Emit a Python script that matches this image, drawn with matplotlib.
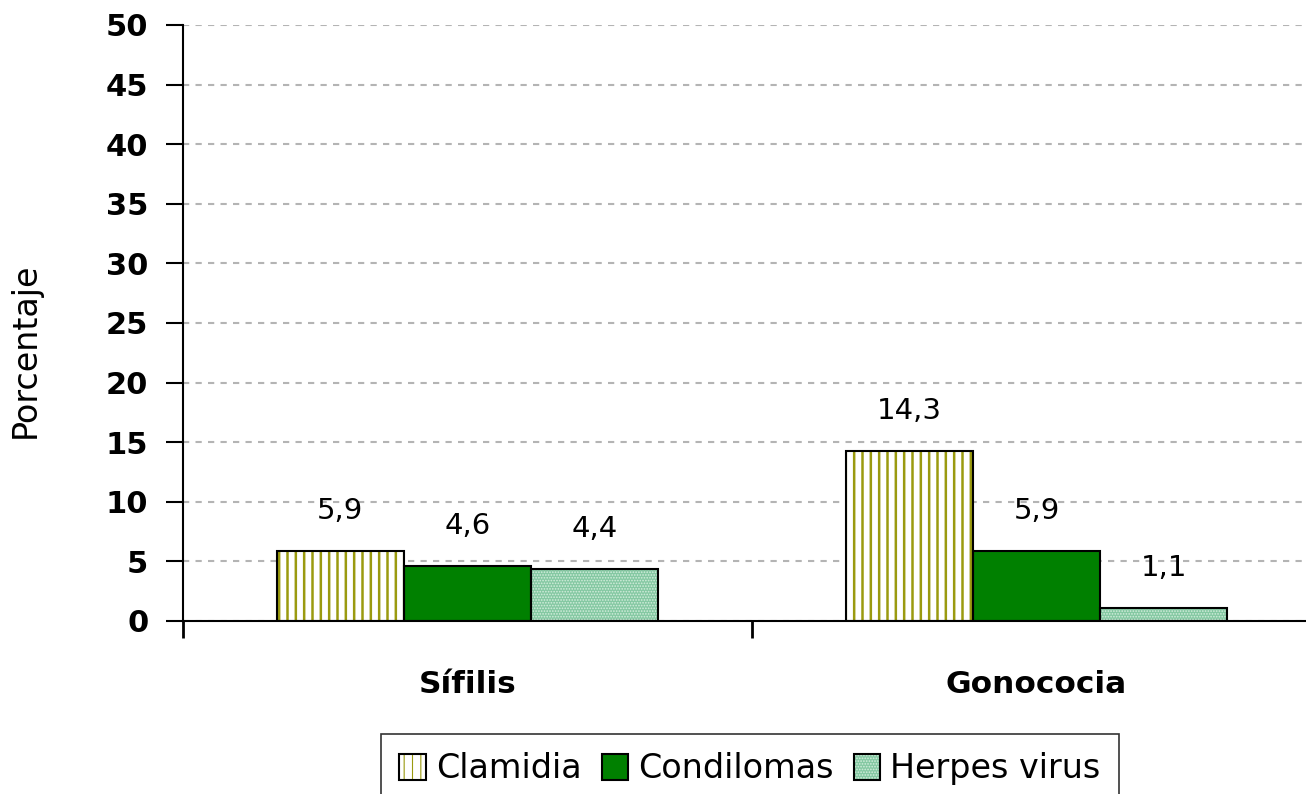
import matplotlib
matplotlib.use('agg')
import matplotlib.pyplot as plt
from matplotlib.legend_handler import HandlerTuple
import numpy as np

categories = ['Sífilis', 'Gonococia']
series = ['Clamidia', 'Condilomas', 'Herpes virus']
clamidia = [5.9, 14.3]
condilomas = [4.6, 5.9]
herpes = [4.4, 1.1]
labels = [['5,9', '14,3'], ['4,6', '5,9'], ['4,4', '1,1']]

fig = plt.figure(figsize=(13.06, 7.94), dpi=100)
# plot area runs a bit past the right edge, like the original crop
ax = fig.add_axes([183/1306, 1-621/794, (1321-183)/1306, (621-25)/794])

x = np.arange(len(categories))
w = 0.2235
styles = [
    dict(facecolor='white', hatch='||', edgecolor='#9a9a10', hlw=1.8),
    dict(facecolor='#008000', hatch=None, edgecolor='#008000', hlw=1.0),
    dict(facecolor='#84c8a2', hatch='......', edgecolor='#d4eedd', hlw=0.8),
]
vals = [clamidia, condilomas, herpes]
handles = []
for i, (v, st) in enumerate(zip(vals, styles)):
    pos = x + (i - 1) * w
    plt.rcParams['hatch.linewidth'] = st['hlw']
    b = ax.bar(pos, v, w, facecolor=st['facecolor'], hatch=st['hatch'],
               edgecolor=st['edgecolor'], linewidth=0, zorder=3)
    # black outline drawn separately so hatch colour can differ
    o = ax.bar(pos, v, w, facecolor='none', edgecolor='black', linewidth=1.5, zorder=4)
    handles.append((b[0], o[0]))
    for p, val, lab in zip(pos, v, labels[i]):
        ax.annotate(lab, (p, val), xytext=(0, 40), textcoords='offset pixels',
                    ha='center', va='center', fontsize=21, zorder=5)

ax.set_xlim(-0.5, 1.5)
ax.set_ylim(0, 50)
ax.set_yticks(range(0, 51, 5))
ax.tick_params(axis='y', labelsize=22, length=12, width=1.5, pad=13)
for t in ax.get_yticklabels():
    t.set_fontweight('bold')
ax.set_xticks([-0.5, 0.5, 1.5])
ax.set_xticklabels([])
ax.tick_params(axis='x', length=12, width=2)
for xi, c in zip(x, categories):
    ax.text(xi, -5.3, c, ha='center', va='center', fontsize=22.5, fontweight='bold')

ax.grid(axis='y', color='#b4b4b4', linestyle=(0, (3, 3)), linewidth=1.5, zorder=0)
ax.spines['top'].set_visible(False)
ax.spines['right'].set_visible(False)
ax.spines['left'].set_linewidth(1.5)
ax.spines['bottom'].set_linewidth(1.5)
ax.spines['bottom'].set_zorder(6)

fig.text(25/1306, 1-350/794, 'Porcentaje', rotation=90, ha='center', va='center',
         fontsize=24)

leg = fig.legend(handles, series, loc='upper center', bbox_to_anchor=(750/1306, 1-734/794),
                 ncol=3, fontsize=24, frameon=True, fancybox=False, edgecolor='black',
                 handlelength=0.8, handleheight=0.8, handletextpad=0.3, columnspacing=0.6,
                 borderpad=0.55, borderaxespad=0,
                 handler_map={tuple: HandlerTuple(ndivide=1)})
leg.get_frame().set_linewidth(1.2)

fig.savefig('out.png', dpi=100)
